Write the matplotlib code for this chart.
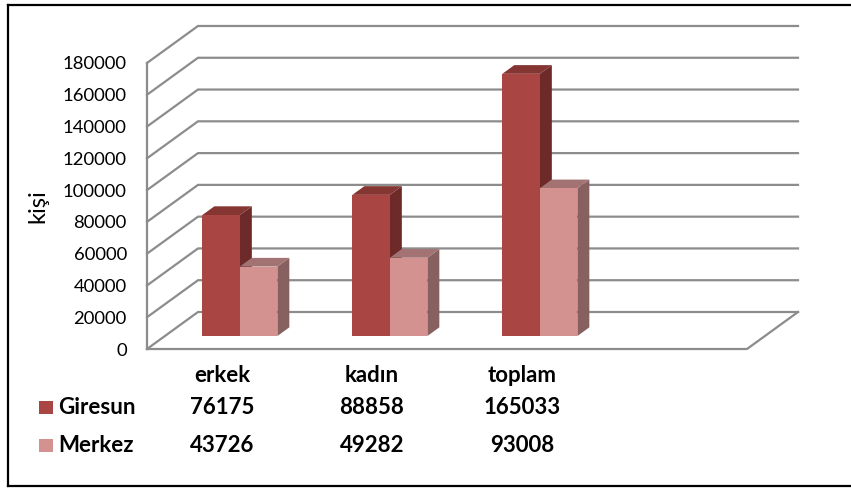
import matplotlib
matplotlib.use("Agg")
import matplotlib.pyplot as plt
from matplotlib.patches import Polygon, Rectangle
from matplotlib.lines import Line2D

# ---- data ----
categories = ["erkek", "kadın", "toplam"]
series_names = ["Giresun", "Merkez"]
giresun = [76175, 88858, 165033]
merkez = [43726, 49282, 93008]
y_ticks = [0, 20000, 40000, 60000, 80000, 100000, 120000, 140000, 160000, 180000]

# ---- styling ----
FONT = "Lato"
front_cols = ["#A94643", "#D39290"]
side_cols = ["#6D2A28", "#876060"]
top_cols = ["#853532", "#A27372"]
grid_col = "#8C8C8C"
TABLE_FS = 16

W, H = 851, 488
fig = plt.figure(figsize=(W / 100, H / 100), dpi=100)

# pixel geometry of the pseudo-3D box
x_left, x_right = 147, 798          # front axis, back wall right end
y_zero, y_top = 349, 25             # front zero level, back top edge
px_per_val = 31.78 / 20000
px_per_cat = 150
depth_px = (51, 37)

ax = fig.add_axes([x_left / W, 1 - y_zero / H, (x_right - x_left) / W, (y_zero - y_top) / H])
ax.set_xlim(0, (x_right - x_left) / px_per_cat)
ax.set_ylim(0, (y_zero - y_top) / px_per_val)
for s in ax.spines.values():
    s.set_visible(False)
ax.set_xticks([])
ax.set_yticks(y_ticks)
ax.set_yticklabels([str(v) for v in y_ticks], fontsize=13.3, family=FONT)
ax.tick_params(axis="y", length=0, pad=14.5)
ax.patch.set_alpha(0)

# axis title
fig.text(38 / W, 1 - 206 / H, "kişi", rotation=90, fontsize=17, family=FONT,
         ha="center", va="center")

DX = depth_px[0] / px_per_cat
DY = depth_px[1] / px_per_val
n_slots = 4
x_floor = n_slots

# walls: gridlines on the left and back wall
for t in y_ticks:
    ax.plot([0, DX, ax.get_xlim()[1]], [t, t + DY, t + DY], color=grid_col, lw=1.6,
            solid_joinstyle="miter", clip_on=False, zorder=1)
ax.plot([0, 0], [0, y_ticks[-1]], color=grid_col, lw=1.6, clip_on=False, zorder=1)
# floor
ax.plot([0, x_floor, x_floor + DX], [0, 0, DY], color=grid_col, lw=1.6, clip_on=False, zorder=1)

# bars
d0 = 0.35          # depth of the bar front plane (fraction of full depth)
dd = 0.235         # bar depth (fraction of full depth)
bar_w = 0.25
ox, oy = d0 * DX, d0 * DY
ddx, ddy = dd * DX, dd * DY
z = 2
for i in range(len(categories)):
    for k, vals in enumerate([giresun, merkez]):
        v = vals[i]
        x0 = i + 0.25 + k * bar_w + ox
        x1 = x0 + bar_w
        b = oy
        t = oy + v
        ax.add_patch(Polygon([(x1, b), (x1 + ddx, b + ddy), (x1 + ddx, t + ddy), (x1, t)],
                             closed=True, facecolor=side_cols[k], edgecolor="none", zorder=z))
        ax.add_patch(Polygon([(x0, t), (x1, t), (x1 + ddx, t + ddy), (x0 + ddx, t + ddy)],
                             closed=True, facecolor=top_cols[k], edgecolor="none", zorder=z))
        ax.bar(x0, v, width=bar_w, bottom=b, align="edge", color=front_cols[k],
               edgecolor="none", zorder=z + 0.5)
        z += 1

# data table below the plot
row_y = [376, 407, 445]
to_fig_y = lambda py: 1 - py / H
col_x = lambda i: (x_left + (i + 0.5) * px_per_cat) / W
for i, c in enumerate(categories):
    fig.text(col_x(i), to_fig_y(row_y[0]), c, fontsize=TABLE_FS, family=FONT,
             fontweight="bold", ha="center", va="center")
for r, (name, vals) in enumerate(zip(series_names, [giresun, merkez])):
    fy = to_fig_y(row_y[r + 1])
    for i, v in enumerate(vals):
        fig.text(col_x(i), fy, str(v), fontsize=TABLE_FS, family=FONT, fontweight="bold",
                 ha="center", va="center")
    fig.text(58 / W, fy, name, fontsize=TABLE_FS, family=FONT, fontweight="bold",
             ha="left", va="center")
    fig.add_artist(Rectangle((39 / W, fy - 6.5 / H), 14 / W, 13 / H,
                             transform=fig.transFigure, facecolor=front_cols[r], edgecolor="none"))

# outer frame
for (xa, ya, xb, yb) in [(8, 5, W + 2, 5), (8, 5, 8, 486), (8, 486, W + 2, 486)]:
    fig.add_artist(Line2D([xa / W, xb / W], [1 - ya / H, 1 - yb / H], transform=fig.transFigure,
                          color="black", lw=1.6))

fig.savefig("out.png", dpi=100)
